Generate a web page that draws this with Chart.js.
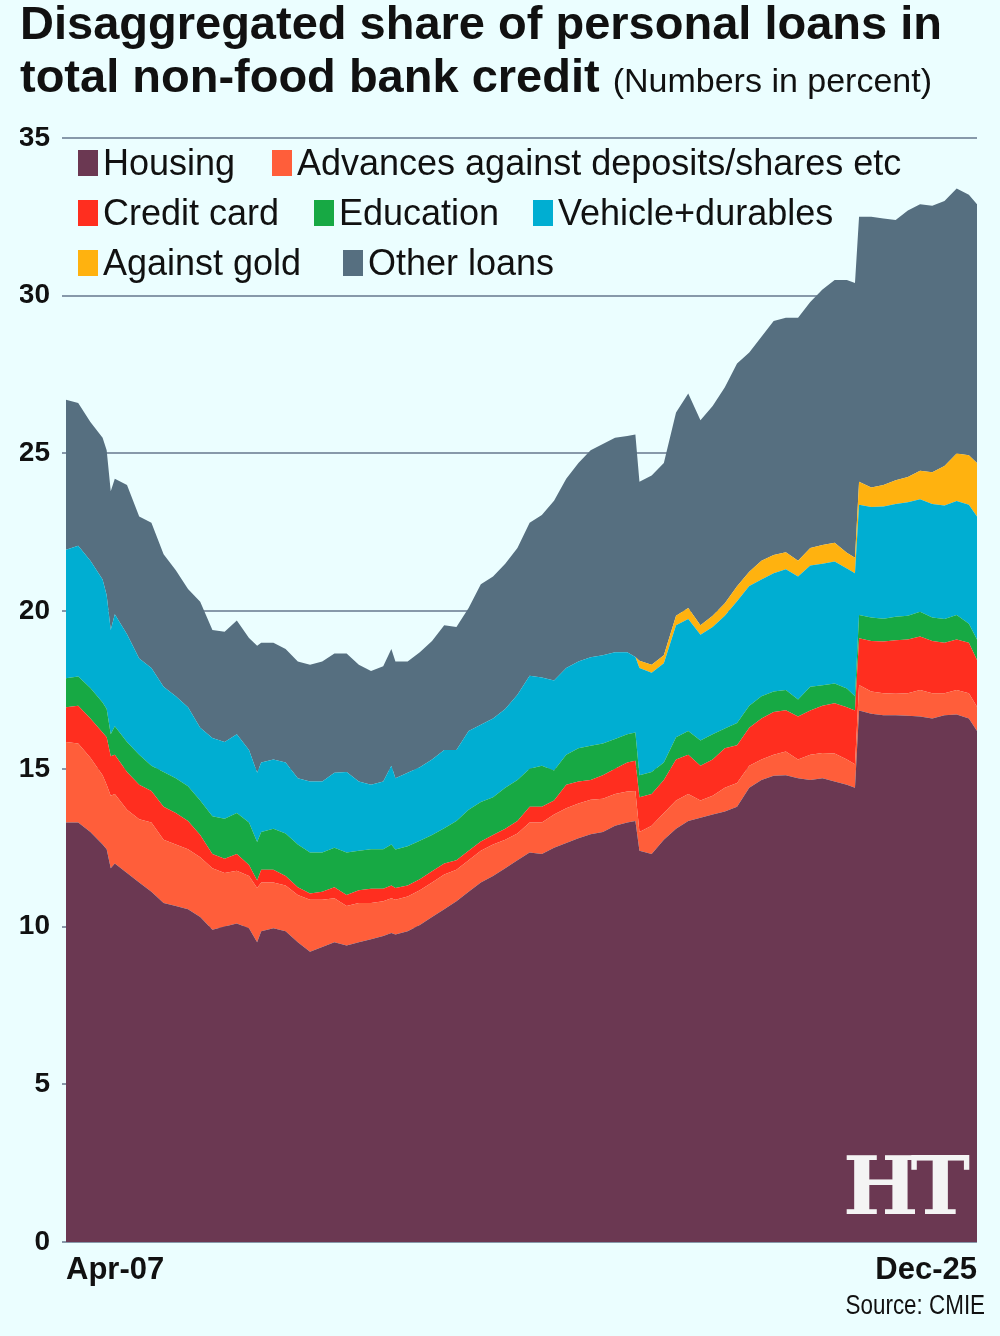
<!DOCTYPE html>
<html lang="en">
<head>
    <meta charset="UTF-8">
    <title>Disaggregated share of personal loans in total non-food bank credit</title>
    <script src="https://cdn.jsdelivr.net/npm/chart.js"></script>
    <style>
        html, body { margin: 0; padding: 0; background: #ebfeff; }
        #wrap { position: relative; width: 1000px; height: 1336px; overflow: hidden; background: #ebfeff;
                font-family: "Liberation Sans", Arial, sans-serif; color: #111; }
        #myChart { position: absolute; left: 0; top: 0; }
        .title { position: absolute; left: 20px; font-weight: bold; font-size: 47px; line-height: 47px; white-space: nowrap; }
        .title span { font-weight: normal; font-size: 34px; }
        .leg { position: absolute; font-size: 36px; line-height: 36px; white-space: nowrap; }
        .leg i { position: absolute; width: 20px; height: 26px; top: 5px; }
        .source { position: absolute; right: 15px; top: 1292px; font-size: 27px; line-height: 27px;
                  transform: scaleX(0.83); transform-origin: right center; white-space: nowrap; }
        .logo { position: absolute; left: 843px; top: 1146px; color: #f4f4f4; font-family: "DejaVu Serif", serif;
                font-weight: bold; font-size: 80px; line-height: 80px; letter-spacing: -8px; }
    </style>
</head>
<body>
<div id="wrap">
    <canvas id="myChart" width="1000" height="1336"></canvas>
    <div class="title" style="top:-1px">Disaggregated share of personal loans in</div>
    <div class="title" style="top:52px">total non-food bank credit <span>(Numbers in percent)</span></div>
    <div id="legend"></div>
    <div class="logo">HT</div>
    <div class="source">Source: CMIE</div>
</div>

<script>
    // Meses muestreados (aprox. trimestral, con puntos extra en los saltos)
    const months = [
        'Apr-07','Jul-07','Oct-07','Jan-08','Feb-08','Mar-08','Apr-08',
        'Jul-08','Oct-08','Jan-09','Apr-09','Jul-09','Oct-09','Jan-10','Apr-10','Jul-10','Oct-10','Jan-11',
        'Mar-11','Apr-11',
        'Jul-11','Oct-11','Jan-12','Apr-12','Jul-12','Oct-12','Jan-13','Apr-13','Jul-13','Oct-13',
        'Dec-13','Jan-14',
        'Apr-14','Jul-14','Oct-14','Jan-15','Apr-15','Jul-15','Oct-15','Jan-16','Apr-16','Jul-16','Oct-16','Jan-17','Apr-17','Jul-17','Oct-17','Jan-18','Apr-18','Jul-18','Oct-18',
        'Dec-18','Jan-19',
        'Apr-19','Jul-19','Oct-19','Jan-20','Apr-20','Jul-20','Oct-20','Jan-21','Apr-21','Jul-21','Oct-21','Jan-22','Apr-22','Jul-22','Oct-22','Jan-23','Apr-23',
        'Jun-23','Jul-23',
        'Oct-23','Jan-24','Apr-24','Jul-24','Oct-24','Jan-25','Apr-25','Jul-25','Oct-25',
        'Dec-25'
    ];

    const housing = [
        13.3,13.3,13.0,12.6,12.45,11.85,12.0,
        11.7,11.4,11.1,10.75,10.65,10.55,10.3,9.9,10.0,10.1,9.95,
        9.5,9.85,
        9.95,9.85,9.5,9.2,9.35,9.5,9.4,9.5,9.6,9.7,
        9.8,9.75,
        9.85,10.05,10.3,10.55,10.8,11.1,11.4,11.6,11.85,12.1,12.35,12.3,12.5,12.65,12.8,12.93,13.0,13.2,13.3,
        13.35,12.4,
        12.3,12.75,13.1,13.35,13.45,13.55,13.65,13.8,14.4,14.65,14.78,14.8,14.7,14.65,14.7,14.6,14.5,
        14.4,16.85,
        16.75,16.7,16.7,16.68,16.66,16.6,16.7,16.72,16.6,
        16.2
    ];
    const advances = [
        2.55,2.5,2.35,2.2,2.05,2.3,2.2,
        2.0,2.0,2.2,2.0,1.95,1.9,1.9,1.95,1.7,1.67,1.65,
        1.72,1.55,
        1.45,1.45,1.5,1.65,1.5,1.4,1.25,1.25,1.15,1.1,
        1.1,1.1,
        1.1,1.1,1.1,1.1,1.0,1.0,1.0,1.0,0.9,0.85,0.95,1.0,1.05,1.1,1.1,1.09,1.05,1.0,0.98,
        0.95,0.6,
        0.9,0.85,0.9,0.85,0.55,0.6,0.75,0.75,0.7,0.65,0.67,0.75,0.6,0.8,0.8,0.89,0.8,
        0.75,0.81,
        0.7,0.7,0.68,0.72,0.84,0.8,0.7,0.78,0.8,
        0.77
    ];
    const creditCard = [
        1.1,1.2,1.25,1.35,1.5,1.25,1.25,
        1.2,1.1,1.0,1.05,1.0,0.9,0.7,0.45,0.45,0.53,0.35,
        0.24,0.4,
        0.4,0.3,0.25,0.2,0.25,0.35,0.35,0.4,0.45,0.4,
        0.4,0.37,
        0.35,0.35,0.35,0.35,0.3,0.3,0.3,0.3,0.35,0.4,0.5,0.5,0.45,0.75,0.7,0.63,0.75,0.8,0.92,
        0.96,1.1,
        1.0,1.05,1.3,1.25,1.1,1.15,1.25,1.2,1.2,1.3,1.35,1.31,1.36,1.4,1.5,1.59,1.65,
        1.7,1.48,
        1.6,1.64,1.7,1.7,1.7,1.65,1.6,1.6,1.6,
        1.48
    ];
    const education = [
        0.92,0.93,0.96,0.95,0.9,0.7,0.9,
        0.95,0.95,0.8,1.1,1.1,1.1,1.1,1.2,1.27,1.3,1.35,
        1.22,1.2,
        1.3,1.35,1.35,1.3,1.25,1.25,1.35,1.25,1.25,1.25,
        1.3,1.22,
        1.25,1.22,1.15,1.12,1.25,1.3,1.25,1.2,1.3,1.3,1.2,1.3,0.95,0.95,1.05,1.08,1.0,0.95,0.9,
        0.89,0.7,
        0.7,0.55,0.7,0.75,0.8,0.8,0.63,0.7,0.7,0.7,0.65,0.64,0.54,0.75,0.65,0.63,0.6,
        0.45,0.74,
        0.75,0.72,0.74,0.75,0.78,0.75,0.75,0.78,0.6,
        0.65
    ];
    const vehicle = [
        4.08,4.14,4.04,3.9,3.6,3.3,3.55,
        3.42,3.05,3.1,2.7,2.6,2.5,2.3,2.48,2.43,2.5,2.3,
        2.2,2.2,
        2.2,2.25,2.1,2.25,2.25,2.38,2.55,2.2,2.05,2.15,
        2.5,2.26,
        2.33,2.33,2.4,2.48,2.25,2.5,2.45,2.5,2.5,2.7,2.95,2.8,2.85,2.75,2.75,2.81,2.8,2.75,2.6,
        2.4,3.4,
        3.15,3.15,3.55,3.55,3.35,3.4,3.57,3.86,3.8,3.7,3.75,3.83,3.9,3.85,3.85,3.86,3.8,
        3.9,3.49,
        3.5,3.56,3.58,3.6,3.57,3.6,3.6,3.61,3.77,
        3.9
    ];
    const gold = [
        0,0,0,0,0,0,0,
        0,0,0,0,0,0,0,0,0,0,0,
        0,0,
        0,0,0,0,0,0,0,0,0,0,
        0,0,
        0,0,0,0,0,0,0,0,0,0,0,0,0,0,0,0,0,0,0,
        0,0.23,
        0.25,0.25,0.3,0.35,0.3,0.35,0.4,0.48,0.45,0.6,0.58,0.54,0.5,0.55,0.6,0.6,0.5,
        0.49,0.73,
        0.62,0.68,0.75,0.8,0.9,1.0,1.25,1.51,1.57,
        1.7
    ];
    const otherLoans = [
        4.75,4.53,4.4,4.5,4.6,4.4,4.3,
        4.73,4.5,4.6,4.2,4.0,3.75,4.0,3.42,3.5,3.6,3.55,
        4.02,3.8,
        3.7,3.6,3.7,3.7,3.8,3.78,3.76,3.7,3.6,3.65,
        3.7,3.7,
        3.52,3.65,3.75,3.95,3.9,3.9,4.45,4.5,4.6,4.65,4.85,5.15,5.7,6.0,6.3,6.56,6.7,6.8,6.85,
        7.05,5.67,
        6.0,6.1,6.45,6.8,6.5,6.65,6.85,7.06,6.95,7.1,7.42,7.43,7.7,7.8,8.1,8.33,8.65,
        8.71,8.4,
        8.58,8.45,8.25,8.45,8.45,8.45,8.4,8.4,8.26,
        8.2
    ];

    const yTicks = [0, 5, 10, 15, 20, 25, 30, 35];
    const xTickLabels = ['Apr-07', 'Dec-25'];

    const seriesNames = ['Housing', 'Advances against deposits/shares etc', 'Credit card', 'Education',
                         'Vehicle+durables', 'Against gold', 'Other loans'];
    const seriesData = [housing, advances, creditCard, education, vehicle, gold, otherLoans];
    const seriesColors = ['#6b3852', '#ff5e3a', '#ff2e1f', '#17a944', '#00aed2', '#ffb20f', '#566f80'];

    // posición de cada entrada de la leyenda (x, fila)
    const legendPos = [[78, 0], [272, 0], [78, 1], [314, 1], [533, 1], [78, 2], [343, 2]];

    const monthNames = ['Jan','Feb','Mar','Apr','May','Jun','Jul','Aug','Sep','Oct','Nov','Dec'];
    function monthIndex(label) {
        const [mon, yy] = label.split('-');
        return (Number(yy) - 7) * 12 + monthNames.indexOf(mon) - 3;
    }
    const xs = months.map(monthIndex);
    const xMax = monthIndex(xTickLabels[1]);

    // leyenda en HTML
    const legendEl = document.getElementById('legend');
    seriesNames.forEach((name, i) => {
        const d = document.createElement('div');
        d.className = 'leg';
        d.style.left = legendPos[i][0] + 'px';
        d.style.top = (145 + legendPos[i][1] * 50) + 'px';
        d.style.paddingLeft = '25px';
        d.innerHTML = '<i style="left:0;background:' + seriesColors[i] + '"></i>' + name;
        legendEl.appendChild(d);
    });

    const ctx = document.getElementById('myChart').getContext('2d');
    const myChart = new Chart(ctx, {
        type: 'line',
        data: {
            datasets: seriesData.map((arr, i) => ({
                label: seriesNames[i],
                data: arr.map((v, j) => ({ x: xs[j], y: v })),
                backgroundColor: seriesColors[i],
                borderColor: seriesColors[i],
                borderWidth: 0,
                pointRadius: 0,
                tension: 0,
                fill: i === 0 ? 'origin' : '-1'
            }))
        },
        options: {
            responsive: false,
            animation: false,
            devicePixelRatio: 1,
            layout: { padding: { left: 20, right: 23, top: 138, bottom: 0 } },
            plugins: { legend: { display: false }, tooltip: { enabled: false } },
            scales: {
                x: {
                    type: 'linear',
                    min: 0,
                    max: xMax,
                    grid: { display: false },
                    border: { display: false },
                    afterBuildTicks: s => { s.ticks = [{ value: 0 }, { value: xMax }]; },
                    afterFit: s => { s.height = 94; },
                    ticks: {
                        align: 'inner',
                        maxRotation: 0,
                        autoSkip: false,
                        padding: 2,
                        color: '#111',
                        font: { family: 'Liberation Sans', weight: 'bold', size: 31 },
                        callback: v => (v === 0 ? xTickLabels[0] : xTickLabels[1])
                    }
                },
                y: {
                    stacked: true,
                    min: 0,
                    max: 35,
                    afterBuildTicks: s => { s.ticks = yTicks.map(v => ({ value: v })); },
                    afterFit: s => { s.width = 46; },
                    grid: { color: '#8799aa', lineWidth: 2, tickLength: 4 },
                    border: { display: false },
                    ticks: {
                        padding: 12,
                        color: '#111',
                        font: { family: 'Liberation Sans', weight: 'bold', size: 28 }
                    }
                }
            }
        }
    });
</script>
</body>
</html>
